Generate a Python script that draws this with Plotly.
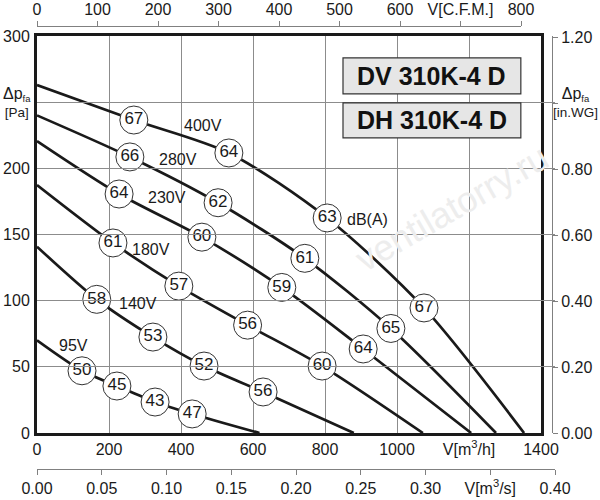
import plotly.graph_objects as go

# fan curves: air flow V [m3/h] against pressure dp_fa [Pa]
# first and last point = curve ends, points in between carry the dB(A) circles
voltages = ["400V", "280V", "230V", "180V", "140V", "95V"]
flow = [
    [0, 269, 533, 806, 1075, 1353],
    [0, 258, 503, 744, 983, 1275],
    [0, 228, 458, 680, 906, 1206],
    [0, 211, 394, 585, 792, 1072],
    [0, 166, 322, 464, 628, 880],
    [0, 125, 222, 328, 431, 618],
]
pressure = [
    [263, 236.5, 211.6, 162.5, 94.5, 0],
    [240, 208.6, 174, 132, 79, 0],
    [220.6, 180.6, 148, 110, 63.5, 0],
    [187.4, 143.6, 111, 81.5, 50.6, 0],
    [140.8, 101, 72.5, 50.6, 31, 0],
    [70, 47, 35.5, 23.4, 14.4, 0],
]
noise = [
    [67, 64, 63, 67],
    [66, 62, 61, 65],
    [64, 60, 59, 64],
    [61, 57, 56, 60],
    [58, 53, 52, 56],
    [50, 45, 43, 47],
]
models = ["DV 310K-4 D", "DH 310K-4 D"]

# axis ticks
ticks_m3h = [0, 200, 400, 600, 800, 1000, 1200, 1400]
text_m3h = ["0", "200", "400", "600", "800", "1000", "V[m<sup>3</sup>/h]", "1400"]
ticks_pa = [0, 50, 100, 150, 200, 250, 300]
text_pa = ["0", "50", "100", "150", "200", "", "300"]
ticks_cfm = [0, 100, 200, 300, 400, 500, 600, 700, 800]
text_cfm = ["0", "100", "200", "300", "400", "500", "600", "V[C.F.M.]", "800"]
ticks_m3s = [0, 0.05, 0.10, 0.15, 0.20, 0.25, 0.30, 0.35, 0.40]
text_m3s = ["0.00", "0.05", "0.10", "0.15", "0.20", "0.25", "0.30", "V[m<sup>3</sup>/s]", "0.40"]
ticks_inwg = [0, 0.2, 0.4, 0.6, 0.8, 1.0, 1.2]
text_inwg = ["0.00", "0.20", "0.40", "0.60", "0.80", "", "1.20"]
title_pa = "<span style='font-size:16px'>&#916;p</span><sub>fa</sub><br>[Pa]"
title_inwg = "<span style='font-size:16px'>&#916;p</span><sub>fa</sub><br>[in.WG]"

PA_PER_INWG = 249.089
FONT = "Liberation Sans, Arial, sans-serif"
INK = "#1a1a1a"

fig = go.Figure()

for q, p in zip(flow, pressure):
    fig.add_trace(go.Scatter(x=q, y=p, mode="lines", line=dict(color=INK, width=2.7, shape="spline", smoothing=0.8),
                             hoverinfo="skip", showlegend=False))

for q, p, db in zip(flow, pressure, noise):
    fig.add_trace(go.Scatter(x=q[1:-1], y=p[1:-1], mode="markers+text", text=[str(d) for d in db],
                             textposition="middle center", textfont=dict(size=17, color=INK, family=FONT),
                             marker=dict(size=28, color="white", line=dict(color="#333333", width=1)),
                             hoverinfo="skip", showlegend=False))

# invisible points so the extra axes get drawn
fig.add_trace(go.Scatter(x=[0], y=[0], xaxis="x2", yaxis="y", mode="markers", marker=dict(opacity=0), hoverinfo="skip", showlegend=False))
fig.add_trace(go.Scatter(x=[0], y=[0], xaxis="x3", yaxis="y", mode="markers", marker=dict(opacity=0), hoverinfo="skip", showlegend=False))
fig.add_trace(go.Scatter(x=[0], y=[0], xaxis="x", yaxis="y2", mode="markers", marker=dict(opacity=0), hoverinfo="skip", showlegend=False))

# voltage labels and dB(A)
label_pos = [(461, 232), (392, 207), (361, 178), (317, 139), (281, 97.5), (100, 66.5)]
for v, (lx, ly) in zip(voltages, label_pos):
    fig.add_annotation(x=lx, y=ly, text=v, showarrow=False, font=dict(size=16, color=INK, family=FONT))
fig.add_annotation(x=917, y=161.7, text="dB(A)", showarrow=False, font=dict(size=16, color=INK, family=FONT))

# pressure axis titles, sitting in the place of the 250 Pa / 1.00 in.WG tick labels
fig.add_annotation(x=-20 / 518, xref="paper", xanchor="center", y=250, yref="y", text=title_pa,
                   showarrow=False, font=dict(size=13.5, color=INK, family=FONT), align="center")
fig.add_annotation(x=538 / 518, xref="paper", xanchor="center", y=250, yref="y", text=title_inwg,
                   showarrow=False, font=dict(size=13.5, color=INK, family=FONT), align="center")

# watermark
fig.add_annotation(x=1150, y=170, text="ventilatorry.ru", showarrow=False, textangle=-30,
                   font=dict(size=36, color="#ededed", family=FONT))

# model boxes
box_y = [(256.2, 283.4), (223, 249.4)]
for m, (y0, y1) in zip(models, box_y):
    fig.add_shape(type="rect", x0=850, x1=1344, y0=y0, y1=y1, xref="x", yref="y",
                  fillcolor="#e6e6e6", line=dict(color="#333333", width=1.2))
    fig.add_annotation(x=1097, y=(y0 + y1) / 2, text="<b>%s</b>" % m, showarrow=False,
                       font=dict(size=25, color="#111111", family=FONT))

y_dom = [(469 - 433) / 449, (469 - 36) / 449]

fig.update_layout(
    width=600, height=500,
    margin=dict(l=37, r=45, t=20, b=31, pad=0),
    paper_bgcolor="white",
    plot_bgcolor="rgba(0,0,0,0)",
    font=dict(family=FONT, size=16, color=INK),
    showlegend=False,
    xaxis=dict(domain=[0, 504 / 518], range=[0, 1400], tickvals=ticks_m3h, ticktext=text_m3h,
               showgrid=True, gridcolor="#8c8c8c", gridwidth=1, zeroline=False,
               showline=True, mirror=True, linecolor=INK, linewidth=3,
               ticks="", ticklabelstandoff=0, automargin=False, fixedrange=True),
    yaxis=dict(domain=y_dom, range=[0, 300], tickvals=ticks_pa, ticktext=text_pa,
               showgrid=True, gridcolor="#8c8c8c", gridwidth=1, zeroline=False,
               showline=True, mirror=True, linecolor=INK, linewidth=3,
               ticks="", ticklabelstandoff=1, automargin=False, fixedrange=True),
    xaxis2=dict(domain=[0, 484 / 518], range=[0, 800], tickvals=ticks_cfm, ticktext=text_cfm,
                anchor="free", position=(469 - 26) / 449, side="top",
                showgrid=False, zeroline=False, showline=True, linecolor="#808080", linewidth=1,
                ticks="outside", ticklen=5, tickcolor="#808080", automargin=False, fixedrange=True),
    xaxis3=dict(domain=[0, 1], range=[0, 0.40], tickvals=ticks_m3s, ticktext=text_m3s,
                anchor="free", position=0, side="bottom",
                showgrid=False, zeroline=False, showline=True, linecolor="#808080", linewidth=1,
                ticks="outside", ticklen=5, tickcolor="#808080", automargin=False, fixedrange=True),
    yaxis2=dict(domain=y_dom, range=[0, 300 / PA_PER_INWG], tickvals=ticks_inwg, ticktext=text_inwg,
                anchor="free", position=515 / 518, side="right", overlaying="y",
                showgrid=False, zeroline=False, showline=True, linecolor="#808080", linewidth=1,
                ticks="outside", ticklen=5, tickcolor="#808080", automargin=False, fixedrange=True),
)

# the page's default body margin would shift the fixed-size figure by 8px
fig.write_html("out.html", config={"displayModeBar": False},
               post_script="document.body.style.margin='0px';")
